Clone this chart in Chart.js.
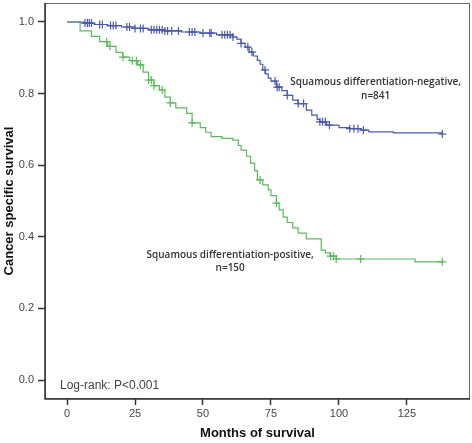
<!DOCTYPE html>
<html lang="en">
<head>
    <meta charset="UTF-8">
    <title>Cancer specific survival</title>
    <script src="https://cdn.jsdelivr.net/npm/chart.js"></script>
    <style>
        html, body { margin: 0; padding: 0; background: #fff; }
        #wrap { width: 472px; height: 443px; }
    </style>
</head>
<body>
    <div id="wrap"><canvas id="kmChart"></canvas></div>
    <script>
        // Squamous differentiation-negative (n=841): step points (months, survival)
        const negMonths   = [0, 6, 10, 15, 20, 25, 30, 36, 42, 49, 55, 61, 62.5, 64, 65.5, 67, 68.5, 70, 71, 72, 73, 74, 75, 77, 79, 81, 83, 85, 88, 90, 92, 93, 95.5, 100, 104, 108, 111, 120, 138];
        const negSurvival = [1.0, 0.997, 0.993, 0.99, 0.986, 0.982, 0.978, 0.975, 0.972, 0.969, 0.964, 0.958, 0.952, 0.94, 0.93, 0.916, 0.905, 0.893, 0.882, 0.866, 0.855, 0.843, 0.835, 0.818, 0.808, 0.795, 0.782, 0.772, 0.754, 0.74, 0.728, 0.721, 0.712, 0.705, 0.702, 0.698, 0.693, 0.69, 0.687];
        const negCensored = [6.6, 7.5, 8.2, 9, 12, 13, 16, 17, 18, 22, 23, 25, 27, 28, 31, 32, 33, 34, 35, 36, 37, 38.5, 41, 45, 46, 47, 50, 52.5, 53, 57, 58, 59, 60, 61, 64, 66.5, 68, 72.8, 76.5, 77.3, 78, 81, 85, 87, 93, 94, 95, 96.5, 104, 105.5, 107, 109, 138];

        // Squamous differentiation-positive (n=150)
        const posMonths   = [0, 4.8, 9, 12, 15, 18, 20.5, 23, 26, 28, 30, 32, 34, 36, 38, 40, 44, 46, 49, 51, 53, 57, 61, 63, 64, 66, 67.5, 69, 70, 72, 74, 75, 77, 78, 79.5, 81, 83, 85, 88, 93.5, 95, 96.7, 99, 128, 138];
        const posSurvival = [1.0, 0.975, 0.96, 0.945, 0.932, 0.915, 0.902, 0.892, 0.88, 0.86, 0.838, 0.822, 0.81, 0.79, 0.774, 0.76, 0.745, 0.718, 0.705, 0.692, 0.68, 0.675, 0.67, 0.655, 0.642, 0.625, 0.606, 0.585, 0.559, 0.545, 0.531, 0.515, 0.494, 0.475, 0.455, 0.44, 0.425, 0.41, 0.394, 0.363, 0.355, 0.346, 0.338, 0.33, 0.33];
        const posCensored = [14.6, 15.8, 20.6, 24, 25.5, 27, 30, 31, 32, 35, 38, 46, 71, 77, 97, 98, 99, 108, 138];

        const xTicks = [0, 25, 50, 75, 100, 125];
        const yTicks = [0.0, 0.2, 0.4, 0.6, 0.8, 1.0];

        const blue = '#4a5aaa';
        const green = '#5cb85c';

        function toPoints(xs, ys) {
            return xs.map((x, i) => ({ x: x, y: ys[i] }));
        }

        // survival value at time t on a step curve
        function survivalAt(xs, ys, t) {
            let s = ys[0];
            for (let i = 0; i < xs.length; i++) {
                if (xs[i] <= t) s = ys[i];
            }
            return s;
        }

        function censorPoints(xs, ys, times) {
            return times.map(t => ({ x: t, y: survivalAt(xs, ys, t) }));
        }

        // no extra room for tick label overflow
        function noPadding(scale) {
            scale.paddingLeft = 0;
            scale.paddingRight = 0;
            scale.paddingTop = 0;
            scale.paddingBottom = 0;
        }

        // frame round the plot area + text labels
        const framePlugin = {
            id: 'frame',
            afterDraw(chart) {
                const { ctx, chartArea: a, scales } = chart;
                ctx.save();
                ctx.strokeStyle = '#666';
                ctx.lineWidth = 1;
                ctx.strokeRect(a.left + 0.5, a.top + 0.5, a.right - a.left - 1, a.bottom - a.top - 1);
                ctx.strokeStyle = '#333';
                ctx.lineWidth = 1.5;
                ctx.beginPath();
                ctx.moveTo(a.left, a.top);
                ctx.lineTo(a.left, a.bottom);
                ctx.lineTo(a.right, a.bottom);
                ctx.stroke();

                ctx.fillStyle = '#333';
                ctx.font = '600 10px "Open Sans"';
                ctx.textAlign = 'center';
                ctx.textBaseline = 'middle';
                let x = scales.x.getPixelForValue(113.5);
                let y = scales.y.getPixelForValue(0.832);
                ctx.fillText('Squamous differentiation-negative,', x, y);
                ctx.fillText('n=841', x, y + 14);

                x = scales.x.getPixelForValue(60);
                y = scales.y.getPixelForValue(0.348);
                ctx.fillText('Squamous differentiation-positive,', x, y);
                ctx.fillText('n=150', x, y + 13);

                ctx.font = '12px "Liberation Sans"';
                ctx.textAlign = 'left';
                ctx.fillStyle = '#444';
                ctx.fillText('Log-rank: P<0.001', a.left + 15, scales.y.getPixelForValue(-0.017));
                ctx.restore();
            }
        };

        new Chart(document.getElementById('kmChart').getContext('2d'), {
            type: 'line',
            data: {
                datasets: [
                    {
                        label: 'negative',
                        data: toPoints(negMonths, negSurvival),
                        borderColor: blue,
                        borderWidth: 1.2,
                        stepped: 'before',
                        pointRadius: 0,
                        fill: false
                    },
                    {
                        label: 'positive',
                        data: toPoints(posMonths, posSurvival),
                        borderColor: green,
                        borderWidth: 1.2,
                        stepped: 'before',
                        pointRadius: 0,
                        fill: false
                    },
                    {
                        label: 'negative censored',
                        data: censorPoints(negMonths, negSurvival, negCensored),
                        showLine: false,
                        pointStyle: 'cross',
                        pointRadius: 4,
                        borderColor: blue,
                        borderWidth: 1.2
                    },
                    {
                        label: 'positive censored',
                        data: censorPoints(posMonths, posSurvival, posCensored),
                        showLine: false,
                        pointStyle: 'cross',
                        pointRadius: 4,
                        borderColor: green,
                        borderWidth: 1.2
                    }
                ]
            },
            options: {
                responsive: true,
                maintainAspectRatio: false,
                animation: false,
                layout: { autoPadding: false, padding: { top: 3, right: 2, left: 0, bottom: 0 } },
                plugins: {
                    legend: { display: false },
                    tooltip: { enabled: false }
                },
                scales: {
                    x: {
                        type: 'linear',
                        min: -8.1,
                        max: 148.2,
                        afterBuildTicks(scale) { scale.ticks = xTicks.map(v => ({ value: v })); },
                        afterFit(scale) { scale.height = 44; noPadding(scale); },
                        border: { display: false },
                        grid: { drawOnChartArea: false, drawTicks: true, tickLength: 6, tickColor: '#333', tickWidth: 1.5 },
                        ticks: { color: '#444', font: { family: 'Liberation Sans', size: 11 }, padding: 2, maxRotation: 0 },
                        title: { display: true, text: 'Months of survival', color: '#111', font: { family: 'Liberation Sans', size: 13, weight: 'bold' }, padding: { top: 2, bottom: 2 } }
                    },
                    y: {
                        type: 'linear',
                        min: -0.053,
                        max: 1.053,
                        afterBuildTicks(scale) { scale.ticks = yTicks.map(v => ({ value: v })); },
                        afterFit(scale) { scale.width = 45; noPadding(scale); },
                        border: { display: false },
                        grid: { drawOnChartArea: false, drawTicks: true, tickLength: 7, tickColor: '#333', tickWidth: 1.5 },
                        ticks: { color: '#444', font: { family: 'Liberation Sans', size: 11 }, padding: 4, callback: v => v.toFixed(1) },
                        title: { display: true, text: 'Cancer specific survival', color: '#111', font: { family: 'Liberation Sans', size: 13, weight: 'bold' }, padding: { top: 2, bottom: 2 } }
                    }
                }
            },
            plugins: [framePlugin]
        });
    </script>
</body>
</html>
